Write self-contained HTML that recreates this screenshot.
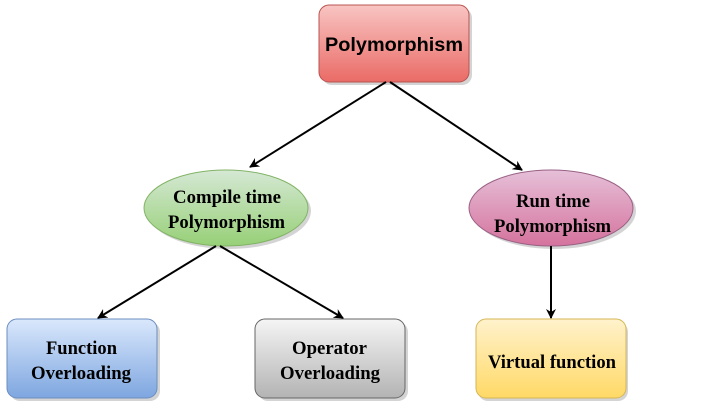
<!DOCTYPE html>
<html><head><style>body{margin:0;background:#fff}</style></head><body>
<svg width="702" height="401" xmlns="http://www.w3.org/2000/svg">
<defs>
<linearGradient id="r" x1="0" y1="0" x2="0" y2="1"><stop offset="0" stop-color="#f8c5c3"/><stop offset="1" stop-color="#ea6b66"/></linearGradient>
<linearGradient id="g" x1="0" y1="0" x2="0" y2="1"><stop offset="0" stop-color="#d5e8d4"/><stop offset="1" stop-color="#97d077"/></linearGradient>
<linearGradient id="p" x1="0" y1="0" x2="0" y2="1"><stop offset="0" stop-color="#e6c0d8"/><stop offset="1" stop-color="#d5739d"/></linearGradient>
<linearGradient id="b" x1="0" y1="0" x2="0" y2="1"><stop offset="0" stop-color="#dae8fc"/><stop offset="1" stop-color="#7ea6e0"/></linearGradient>
<linearGradient id="s" x1="0" y1="0" x2="0" y2="1"><stop offset="0" stop-color="#f5f5f5"/><stop offset="1" stop-color="#b3b3b3"/></linearGradient>
<linearGradient id="y" x1="0" y1="0" x2="0" y2="1"><stop offset="0" stop-color="#fff2cc"/><stop offset="1" stop-color="#ffd966"/></linearGradient>
<marker id="a" markerWidth="10" markerHeight="10" refX="9" refY="5" orient="auto" markerUnits="userSpaceOnUse"><path d="M0,0 L10,5 L0,10 L3,5 z" fill="#000"/></marker>
</defs>
<g fill="#aaa" opacity="0.5">
<rect x="322" y="8" width="150" height="77" rx="10"/>
<ellipse cx="229" cy="211" rx="82" ry="38"/>
<ellipse cx="554" cy="211" rx="82" ry="38"/>
<rect x="10" y="322" width="150" height="79" rx="10"/>
<rect x="258" y="322" width="150" height="79" rx="10"/>
<rect x="478" y="322" width="150" height="79" rx="10"/>
</g>
<rect x="319" y="5" width="150" height="77" rx="10" fill="url(#r)" stroke="#b85450"/>
<ellipse cx="226" cy="208" rx="82" ry="38" fill="url(#g)" stroke="#82b366"/>
<ellipse cx="551" cy="208" rx="82" ry="38" fill="url(#p)" stroke="#996185"/>
<rect x="7" y="319" width="150" height="79" rx="10" fill="url(#b)" stroke="#6c8ebf"/>
<rect x="255" y="319" width="150" height="79" rx="10" fill="url(#s)" stroke="#666"/>
<rect x="476" y="319" width="150" height="79" rx="10" fill="url(#y)" stroke="#d6b656"/>
<g stroke="#000" stroke-width="2" marker-end="url(#a)">
<line x1="386" y1="82" x2="250" y2="167"/>
<line x1="390" y1="82" x2="522" y2="170"/>
<line x1="216" y1="246" x2="98" y2="318"/>
<line x1="220" y1="246" x2="343" y2="318"/>
<line x1="551" y1="246" x2="551" y2="318"/>
</g>
<text x="325" y="51" textLength="138" lengthAdjust="spacingAndGlyphs" font-family="Liberation Sans, sans-serif" font-weight="bold" font-size="19">Polymorphism</text>
<g font-family="Liberation Serif, serif" font-weight="bold" font-size="19" lengthAdjust="spacingAndGlyphs">
<text x="173" y="203" textLength="108" lengthAdjust="spacingAndGlyphs">Compile time</text>
<text x="168" y="228" textLength="117" lengthAdjust="spacingAndGlyphs">Polymorphism</text>
<text x="516" y="207" textLength="74" lengthAdjust="spacingAndGlyphs">Run time</text>
<text x="494" y="232" textLength="117" lengthAdjust="spacingAndGlyphs">Polymorphism</text>
<text x="46" y="354" textLength="71" lengthAdjust="spacingAndGlyphs">Function</text>
<text x="31" y="379" textLength="100" lengthAdjust="spacingAndGlyphs">Overloading</text>
<text x="292" y="354" textLength="75" lengthAdjust="spacingAndGlyphs">Operator</text>
<text x="280" y="379" textLength="100" lengthAdjust="spacingAndGlyphs">Overloading</text>
<text x="488" y="368" textLength="128" lengthAdjust="spacingAndGlyphs">Virtual function</text>
</g>
</svg>
</body></html>
